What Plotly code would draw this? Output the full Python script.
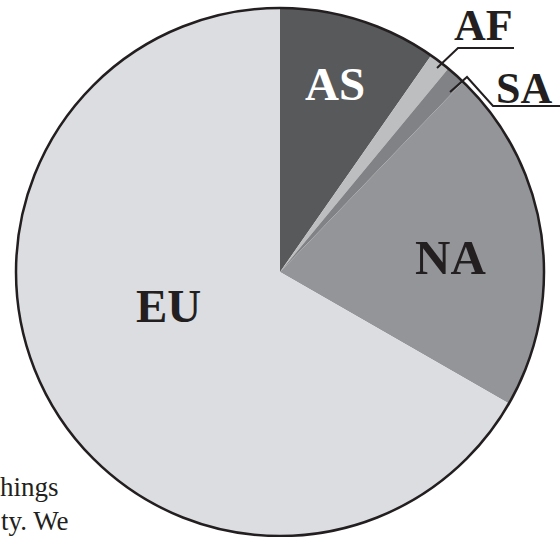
import plotly.graph_objects as go

# Data (in percent)
regions = ["AS", "AF", "SA", "NA", "EU"]
shares = [9.7, 1.3, 1.2, 21.1, 66.7]
colors = ["#58595b", "#bcbec0", "#808285", "#939598", "#dcdde0"]
label_colors = ["#ffffff", "#231f20", "#231f20", "#231f20", "#231f20"]
body_text = ["hings", "ty. We"]

W, H = 560, 537

def px(x, y):
    return x / W, 1 - y / H

dom_x = [16 / W, 544 / W]
dom_y = [1 / H, 529 / H]

fig = go.Figure()
fig.add_trace(go.Pie(
    labels=regions, values=shares, sort=False, direction="clockwise", rotation=0,
    marker=dict(colors=colors, line=dict(width=0)),
    textinfo="none", hoverinfo="label+percent", showlegend=False,
    domain=dict(x=dom_x, y=dom_y),
))
# outer outline
fig.add_trace(go.Pie(
    labels=["outline"], values=[1], sort=False,
    marker=dict(colors=["rgba(0,0,0,0)"], line=dict(color="#231f20", width=2.5)),
    textinfo="none", hoverinfo="skip", showlegend=False,
    domain=dict(x=dom_x, y=dom_y),
))

font = "Liberation Serif"
label_pos = {"AS": (335, 84, 47), "NA": (450, 257, 49), "EU": (168, 306, 47),
             "AF": (483.5, 26, 44), "SA": (524, 88, 44)}
for r, c in zip(regions, label_colors):
    x, y, s = label_pos[r]
    ax, ay = px(x, y)
    fig.add_annotation(x=ax, y=ay, xref="paper", yref="paper", text="<b>%s</b>" % r,
                       showarrow=False, xanchor="center", yanchor="middle",
                       font=dict(family=font, size=s, color=c))

# leader lines
def path(points):
    pts = [px(x, y) for x, y in points]
    return "M " + " L ".join("%f,%f" % p for p in pts)

for pts in ([(437, 68), (458, 48), (514, 48)],
            [(450, 92), (467, 77), (493, 106), (562, 106)]):
    fig.add_shape(type="path", xref="paper", yref="paper", path=path(pts),
                  line=dict(color="#231f20", width=2))

# partial body text at bottom-left
for txt, (x, y) in zip(body_text, [(-2, 487), (-1, 521)]):
    ax, ay = px(x, y)
    fig.add_annotation(x=ax, y=ay, xref="paper", yref="paper", text=txt,
                       showarrow=False, xanchor="left", yanchor="middle",
                       font=dict(family=font, size=27, color="#231f20"))

fig.update_layout(width=W, height=H, margin=dict(l=0, r=0, t=0, b=0),
                  paper_bgcolor="white", plot_bgcolor="white")
fig.write_html("out.html", config={"displayModeBar": False},
               post_script="document.body.style.margin='0';document.body.style.padding='0';")
